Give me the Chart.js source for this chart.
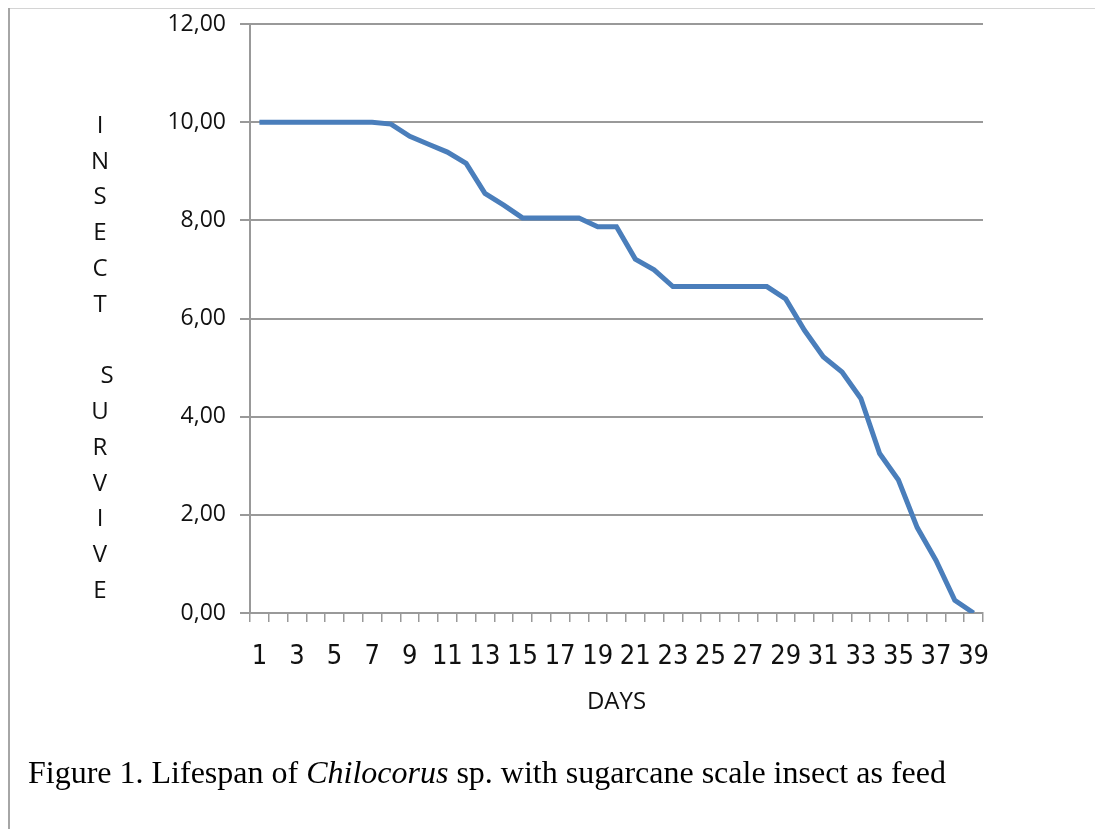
<!DOCTYPE html>
<html>
<head>
<meta charset="utf-8">
<title>Lifespan of Chilocorus sp.</title>
<script src="https://cdn.jsdelivr.net/npm/chart.js@4/dist/chart.umd.min.js"></script>
<style>
  html, body { margin:0; padding:0; background:#fff; }
  #page { position:relative; width:1095px; height:829px; overflow:hidden; }
  #chart { position:absolute; left:0; top:0; }
  .frame-v { position:absolute; left:8px; top:8px; width:2px; height:821px; background:#a6a6a6; }
  .frame-h { position:absolute; left:8px; top:8px; width:1087px; height:1px; background:#d4d4d4; }
  #caption {
    position:absolute; left:28px; top:756px; white-space:nowrap;
    font-family:'Liberation Serif','Times New Roman',serif; font-size:32px; line-height:1; color:#000;
  }
</style>
</head>
<body>
<div id="page">
  <canvas id="chart" width="1095" height="829"></canvas>
  <div class="frame-h"></div>
  <div class="frame-v"></div>
  <div id="caption">Figure 1. Lifespan of <i>Chilocorus</i> sp. with sugarcane scale insect as feed</div>
</div>
<script>
  // jours 1..39
  const DAYS = [];
  for (let d = 1; d <= 39; d++) DAYS.push(String(d));

  // survie
  const SURVIVAL = [
    10.00, 10.00, 10.00, 10.00, 10.00, 10.00, 10.00, 9.96, 9.71, 9.55,
    9.39, 9.16, 8.55, 8.31, 8.05, 8.05, 8.05, 8.05, 7.87, 7.87,
    7.21, 6.99, 6.65, 6.65, 6.65, 6.65, 6.65, 6.65, 6.40, 5.76,
    5.22, 4.91, 4.37, 3.25, 2.71, 1.74, 1.07, 0.26, 0.00
  ];

  const Y_TICKS = [0, 2, 4, 6, 8, 10, 12];
  const Y_TITLE = ['I', 'N', 'S', 'E', 'C', 'T', '', ' S', 'U', 'R', 'V', 'I', 'V', 'E'];
  const X_TITLE = 'DAYS';

  const AXIS_GREY = '#999999';
  const LINE_BLUE = '#4a7ebb';

  // titre vertical, lettres empilées
  const stackedTitle = {
    id: 'stackedTitle',
    afterDraw(chart) {
      const ctx = chart.ctx;
      ctx.save();
      ctx.font = "24px 'Open Sans', sans-serif";
      ctx.fillStyle = '#111';
      ctx.textAlign = 'center';
      ctx.textBaseline = 'middle';
      Y_TITLE.forEach((ch, k) => {
        if (!ch.trim()) return;
        const shift = ch.startsWith(' ') ? 7 : 0;
        ctx.fillText(ch.trim(), 100 + shift, 126 + k * 35.77);
      });
      ctx.restore();
    }
  };

  new Chart(document.getElementById('chart'), {
    type: 'line',
    data: {
      labels: DAYS,
      datasets: [{
        data: SURVIVAL,
        borderColor: LINE_BLUE,
        borderWidth: 5,
        pointRadius: 0,
        tension: 0,
        fill: false,
      }],
    },
    options: {
      responsive: false,
      animation: false,
      layout: { padding: { left: 0, right: 112, top: 24, bottom: 0 } },
      plugins: { legend: { display: false }, tooltip: { enabled: false } },
      scales: {
        x: {
          offset: true,
          afterFit: s => { s.height = 216; s.paddingLeft = 0; s.paddingRight = 0; },
          grid: {
            offset: true, drawOnChartArea: false, drawTicks: true,
            tickLength: 9, color: AXIS_GREY, lineWidth: 1.5,
          },
          border: { color: AXIS_GREY, width: 2 },
          ticks: {
            autoSkip: false, maxRotation: 0, padding: 19, color: '#111',
            font: { family: "'Liberation Sans Narrow','DejaVu Sans Condensed',sans-serif", size: 27 },
            callback: (v, i) => (i % 2 === 0 ? DAYS[i] : ''),
          },
          title: {
            display: true, text: X_TITLE, color: '#111',
            font: { family: "'Open Sans', sans-serif", size: 24 },
            padding: { top: 0, bottom: 112 },
          },
        },
        y: {
          min: 0, max: 12,
          afterFit: s => { s.width = 250; s.paddingTop = 0; s.paddingBottom = 0; },
          afterBuildTicks: s => { s.ticks = Y_TICKS.map(v => ({ value: v })); },
          grid: { color: AXIS_GREY, lineWidth: 2, tickLength: 10 },
          border: { color: AXIS_GREY, width: 2 },
          ticks: {
            padding: 14, color: '#111',
            font: { family: "'Open Sans', sans-serif", size: 23 },
            callback: v => v.toFixed(2).replace('.', ','),
          },
        },
      },
    },
    plugins: [stackedTitle],
  });
</script>
</body>
</html>
